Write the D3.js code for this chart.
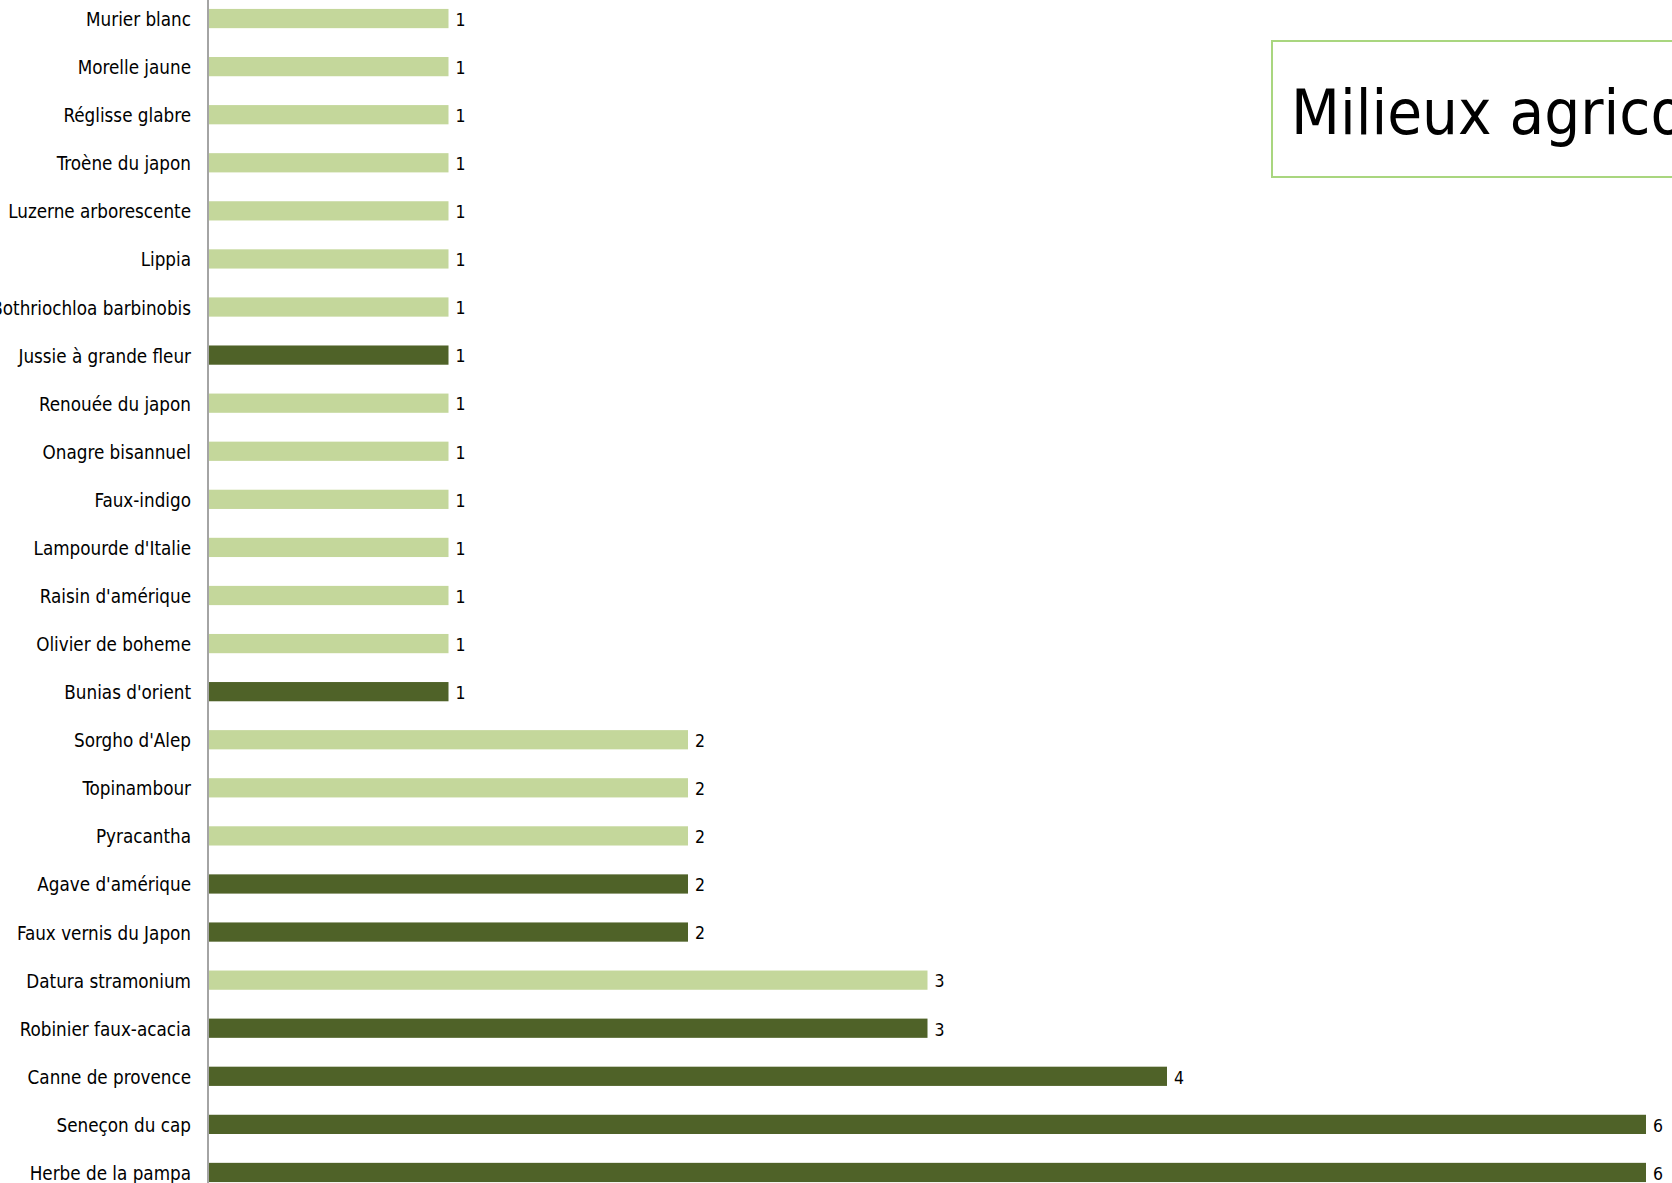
<!DOCTYPE html>
<html>
<head>
    <meta charset="utf-8">
    <script src="https://d3js.org/d3.v7.min.js"></script>
    <style>
      body { margin: 0; background: #fff; overflow: hidden; }
      text { font-family: "DejaVu Sans Condensed", "DejaVu Sans", sans-serif; fill: #000; }
      .axis path { stroke: #868686; stroke-width: 1.5; }
      .axis line { stroke: none; }
    </style>
</head>
<body>
    <script>
        var especes = ["Murier blanc", "Morelle jaune", "Réglisse glabre", "Troène du japon",
            "Luzerne arborescente", "Lippia", "Bothriochloa barbinobis", "Jussie à grande fleur",
            "Renouée du japon", "Onagre bisannuel", "Faux-indigo", "Lampourde d'Italie",
            "Raisin d'amérique", "Olivier de boheme", "Bunias d'orient", "Sorgho d'Alep",
            "Topinambour", "Pyracantha", "Agave d'amérique", "Faux vernis du Japon",
            "Datura stramonium", "Robinier faux-acacia", "Canne de provence", "Seneçon du cap",
            "Herbe de la pampa"];
        var nombres = [1, 1, 1, 1, 1, 1, 1, 1, 1, 1, 1, 1, 1, 1, 1, 2, 2, 2, 2, 2, 3, 3, 4, 6, 6];
        // 0 = clair, 1 = foncé
        var groupes = [0, 0, 0, 0, 0, 0, 0, 1, 0, 0, 0, 0, 0, 0, 1, 0, 0, 0, 1, 1, 0, 1, 1, 1, 1];
        var couleurs = ["#c4d79b", "#4f6228"];
        var titre = "Milieux agricoles";

        var width = 1672, height = 1183;
        var data = especes.map(function (d, i) {
            return { nom: d, n: nombres[i], g: groupes[i] };
        });

        var svg = d3.select("body").append("svg")
            .attr("width", width).attr("height", height);

        var x = d3.scaleLinear().domain([0, 6]).range([209, 1646]);
        var y = d3.scaleBand().domain(especes).range([-5.5, 1196.5])
            .paddingInner(0.6).paddingOuter(0.3);

        svg.selectAll("rect.bar")
            .data(data).enter()
            .append("rect")
            .attr("class", "bar")
            .attr("x", x(0))
            .attr("y", d => y(d.nom))
            .attr("width", d => x(d.n) - x(0))
            .attr("height", y.bandwidth())
            .style("fill", d => couleurs[d.g]);

        svg.selectAll("text.val")
            .data(data).enter()
            .append("text")
            .attr("class", "val")
            .attr("x", d => x(d.n) + 7)
            .attr("y", d => y(d.nom) + y.bandwidth() / 2 + 1)
            .attr("dy", "0.36em")
            .style("font-size", "17.5px")
            .text(d => d.n);

        var yAxis = d3.axisLeft(y).tickSize(0).tickPadding(17);
        var gy = svg.append("g").attr("class", "axis")
            .attr("transform", "translate(208,0)")
            .call(yAxis);
        gy.select(".domain").attr("d", "M0,-10V" + (height + 10));
        gy.selectAll("text")
            .attr("dy", "0.40em")
            .style("font-size", "18.7px");

        // cadre du titre
        svg.append("rect")
            .attr("x", 1272).attr("y", 41)
            .attr("width", 500).attr("height", 136)
            .style("fill", "#fff")
            .style("stroke", "#a9d67f")
            .style("stroke-width", 2);
        svg.append("text")
            .attr("x", 1291).attr("y", 134)
            .style("font-size", "63px")
            .text(titre);
    </script>
</body>
</html>
